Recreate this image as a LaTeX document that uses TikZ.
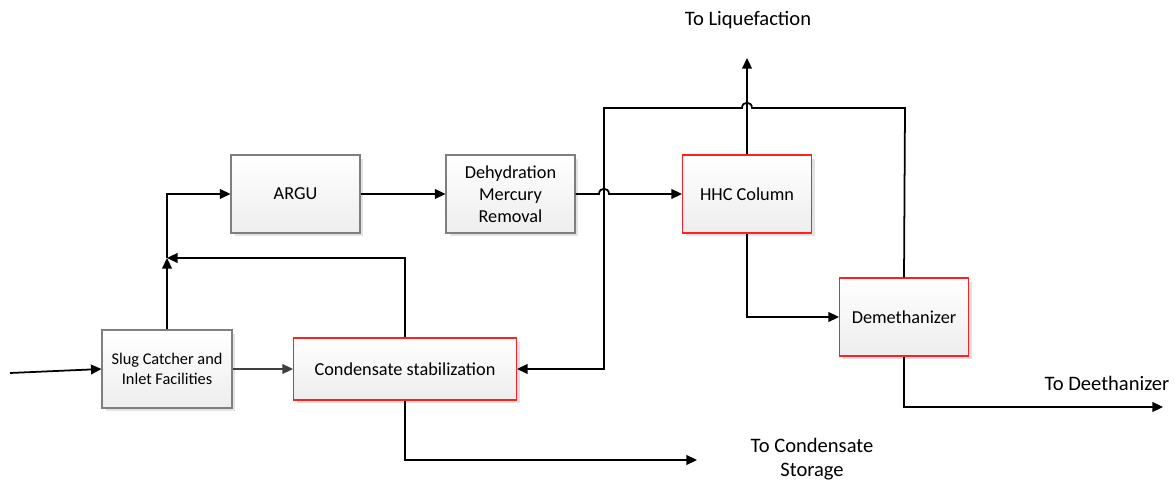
\documentclass[tikz,border=0pt]{standalone}
\usepackage{fontspec}
\setmainfont{Carlito}
\usepackage{xcolor}
\usepackage{tikz}
\usetikzlibrary{arrows.meta,shadows}

\definecolor{boxgray}{HTML}{7F7F7F}
\definecolor{boxred}{HTML}{FF2020}
\definecolor{linegray}{HTML}{404040}

\begin{document}
\begin{tikzpicture}[x=0.02cm, y=-0.02cm,
    unit/.style={draw=boxgray, line width=0.6pt, inner sep=0pt, align=center,
        top color=white, bottom color=gray!14,
        drop shadow={shadow xshift=0.07cm, shadow yshift=-0.07cm, fill=gray!22, opacity=1},
        minimum width=2.58cm, minimum height=1.56cm,
        font=\fontsize{10.4}{12.6}\selectfont},
    column/.style={unit, draw=boxred},
    flow/.style={line width=1pt, -{Triangle[length=6pt, width=5.5pt]}},
    outlet/.style={font=\fontsize{11.7}{13.6}\selectfont, align=center}]

    % Page frame
    \useasboundingbox (0,0) rectangle (1175,482);

    % Hop radius for crossing lines
    \def\hop{5}

    % Process units
    \node[unit, minimum width=2.6cm, font=\fontsize{9.3}{11.4}\selectfont] (slug) at (167,369) {Slug Catcher and\\Inlet Facilities};
    \node[unit] (argu) at (295.5,194) {ARGU};
    \node[unit] (dehy) at (510.5,194) {Dehydration\\Mercury\\Removal};
    \node[column] (hhc) at (747,194) {HHC Column};
    \node[column] (demeth) at (904,317) {Demethanizer};
    \node[column, minimum width=4.46cm, minimum height=1.24cm] (cond) at (405,369) {Condensate stabilization};

    % Feed and outlet points
    \coordinate (feed) at (10,373);
    \coordinate (jn) at (167,258);
    \coordinate (liq) at (747,58);
    \coordinate (store) at (697,460);
    \coordinate (deeth) at (1163,407);

    % Outlet labels
    \node[outlet] (liqtext) at (748,20) {To Liquefaction};
    \node[outlet] (storetext) at (812,459) {To Condensate\\Storage};
    \node[outlet] (deethtext) at (1107,383) {To Deethanizer};

    % Gas train
    \draw[flow] (feed) -- (slug.west);
    \draw[flow, linegray] (slug.east) -- (cond.west);
    \draw[flow] (slug.north) -- (jn);
    \draw[flow] (jn) |- (argu.west);
    \draw[flow] (cond.north) |- (jn);
    \draw[flow] (argu.east) -- (dehy.west);
    \draw[flow] (dehy.east) -- (604-\hop,194)
        .. controls (604-\hop,194-1.4*\hop) and (604+\hop,194-1.4*\hop) .. (604+\hop,194)
        -- (hhc.west);
    \draw[flow] (hhc.north) -- (liq);

    % Liquids from the columns
    \draw[flow] (hhc.south) |- (demeth.west);
    \draw[flow] (demeth.north) -- (905,108) -- (747+\hop,108)
        .. controls (747+\hop,108-1.4*\hop) and (747-\hop,108-1.4*\hop) .. (747-\hop,108)
        -- (604,108) -- (604,369) -- (cond.east);
    \draw[flow] (demeth.south) |- (deeth);
    \draw[flow] (cond.south) |- (store);

\end{tikzpicture}
\end{document}
